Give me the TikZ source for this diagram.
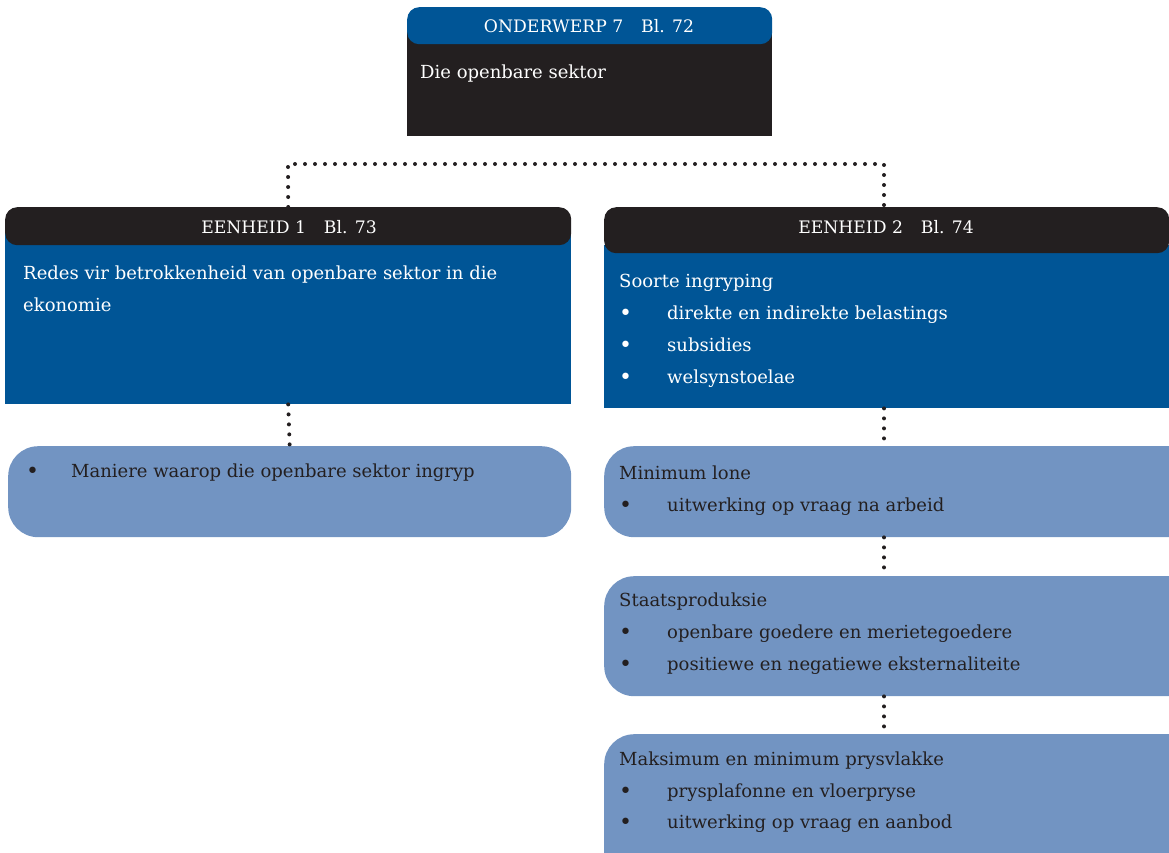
\documentclass[tikz,border=0pt]{standalone}
\usepackage{fontspec}
\setmainfont{DejaVu Serif}
\definecolor{darkblue}{RGB}{0,85,150}
\definecolor{nearblack}{RGB}{35,31,32}
\definecolor{lightblue}{RGB}{114,148,194}
\begin{document}
\begin{tikzpicture}[x=1pt,y=-1pt,
  body/.style={fill=#1,draw=none,anchor=north west,inner sep=0pt},
  headbox/.style={fill=#1,draw=none,anchor=north west,inner sep=0pt,rounded corners=12pt},
  lightbox/.style={fill=lightblue,draw=none,anchor=north west,inner sep=0pt,rounded corners=30pt},
  headtxt/.style={text=white,font=\fontsize{17.2}{17.2}\selectfont,anchor=base,inner sep=0pt},
  wtxt/.style={text=white,font=\fontsize{18}{18}\selectfont,anchor=base west,inner sep=0pt},
  ktxt/.style={text=nearblack,font=\fontsize{18}{18}\selectfont,anchor=base west,inner sep=0pt},
  wbul/.style={wtxt,font=\fontsize{22}{22}\selectfont,yshift=-1.5pt},
  kbul/.style={ktxt,font=\fontsize{22}{22}\selectfont,yshift=-1.5pt},
  dots/.style={draw=nearblack,line width=4pt,line cap=round,dash pattern=on 0pt off 10pt}
]
\useasboundingbox (0,0) rectangle (1169,852);
\clip (0,0) rectangle (1169,852);
% top box
\node[body=nearblack,minimum width=365pt,minimum height=107pt] (topbody) at (407,29) {};
\node[headbox=darkblue,minimum width=365pt,minimum height=37pt] (tophead) at (407,7) {};
\node[headtxt] (toptitle) at (589,32) {ONDERWERP 7\hspace{18pt}Bl. 72};
\node[wtxt] (toptext) at (420,78) {Die openbare sektor};
% unit 1
\node[body=darkblue,minimum width=566pt,minimum height=174pt] (u1body) at (5,230) {};
\node[headbox=nearblack,minimum width=566pt,minimum height=38pt] (u1head) at (5,207) {};
\node[headtxt] (u1title) at (289,233) {EENHEID 1\hspace{18pt}Bl. 73};
\node[wtxt] (u1t1) at (23,279) {Redes vir betrokkenheid van openbare sektor in die};
\node[wtxt] (u1t2) at (23,311) {ekonomie};
% unit 2
\node[body=darkblue,minimum width=565pt,minimum height=163pt] (u2body) at (604,245) {};
\node[headbox=nearblack,minimum width=565pt,minimum height=46pt] (u2head) at (604,207) {};
\node[headtxt] (u2title) at (886,233) {EENHEID 2\hspace{18pt}Bl. 74};
\node[wtxt] (u2t0) at (619,287) {Soorte ingryping};
\node[wbul] (u2b1) at (619,319) {•};
\node[wtxt] (u2t1) at (667,319) {direkte en indirekte belastings};
\node[wbul] (u2b2) at (619,351) {•};
\node[wtxt] (u2t2) at (667,351) {subsidies};
\node[wbul] (u2b3) at (619,383) {•};
\node[wtxt] (u2t3) at (667,383) {welsynstoelae};
% left light box
\node[lightbox,minimum width=563pt,minimum height=91pt] (l1) at (8,446) {};
\node[kbul] (l1b) at (26,477) {•};
\node[ktxt] (l1t) at (71,477) {Maniere waarop die openbare sektor ingryp};
% right light boxes
\node[lightbox,minimum width=595pt,minimum height=91pt] (r1) at (604,446) {};
\node[ktxt] (r1t0) at (619,479) {Minimum lone};
\node[kbul] (r1b1) at (619,511) {•};
\node[ktxt] (r1t1) at (667,511) {uitwerking op vraag na arbeid};
\node[lightbox,minimum width=595pt,minimum height=120pt] (r2) at (604,576) {};
\node[ktxt] (r2t0) at (619,606) {Staatsproduksie};
\node[kbul] (r2b1) at (619,638) {•};
\node[ktxt] (r2t1) at (667,638) {openbare goedere en merietegoedere};
\node[kbul] (r2b2) at (619,670) {•};
\node[ktxt] (r2t2) at (667,670) {positiewe en negatiewe eksternaliteite};
\node[lightbox,minimum width=595pt,minimum height=160pt] (r3) at (604,734) {};
\node[ktxt] (r3t0) at (619,765) {Maksimum en minimum prysvlakke};
\node[kbul] (r3b1) at (619,797) {•};
\node[ktxt] (r3t1) at (667,797) {prysplafonne en vloerpryse};
\node[kbul] (r3b2) at (619,828) {•};
\node[ktxt] (r3t2) at (667,828) {uitwerking op vraag en aanbod};
% connectors
\coordinate (j1) at (288,164);
\coordinate (j2) at (884,164);
\draw[dots] (u1head.north) -- (j1) -- (j2) -- (j2 |- u2head.north);
\draw[dots] (u1body.south) -- (l1.north);
\draw[dots] (u2body.south -| j2) -- (r1.north -| j2);
\draw[dots] (r1.south -| j2) -- (r2.north -| j2);
\draw[dots] (r2.south -| j2) -- (r3.north -| j2);
\end{tikzpicture}
\end{document}
